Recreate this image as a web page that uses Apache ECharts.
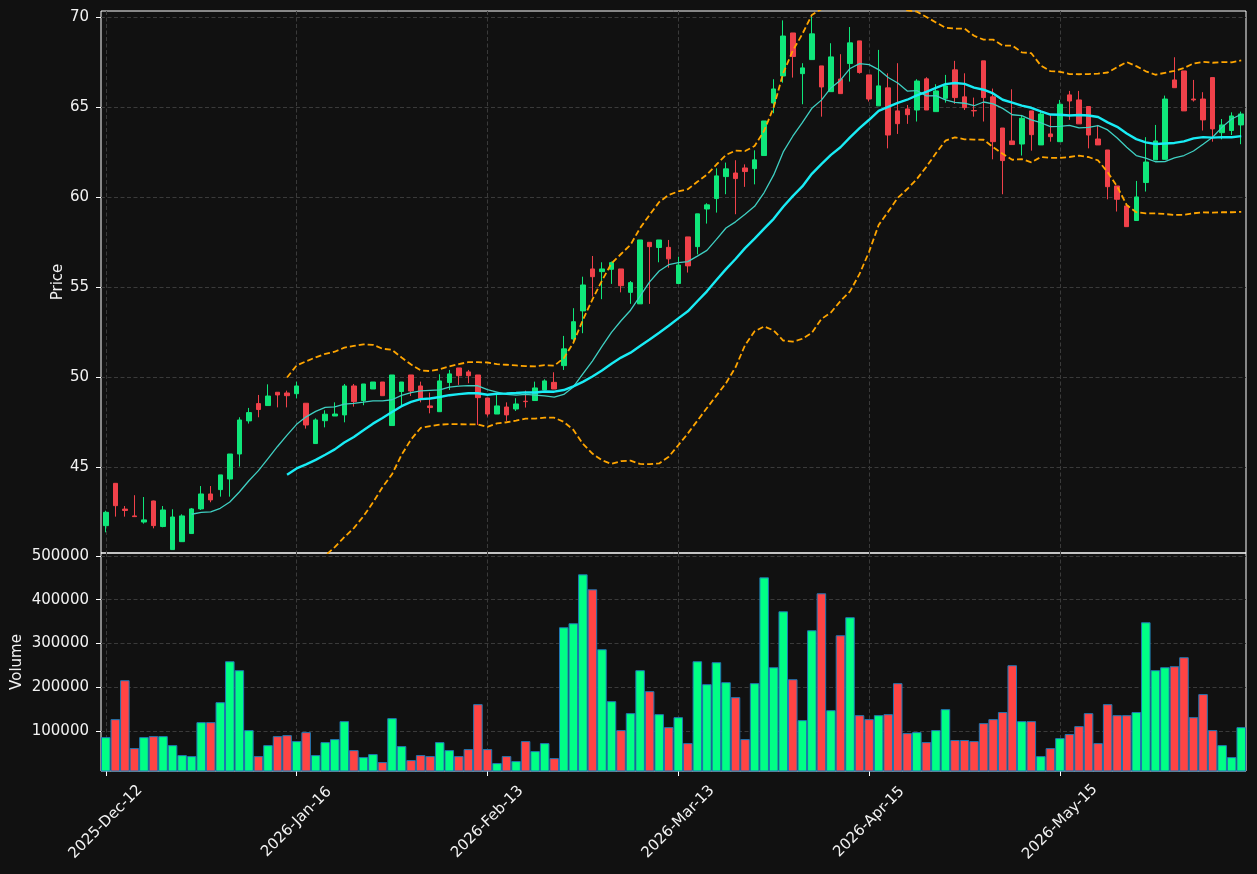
<!DOCTYPE html>
<html>
<head>
<meta charset="utf-8">
<title>Price / Volume</title>
<script src="https://cdn.jsdelivr.net/npm/echarts@6.0.0/dist/echarts.min.js"></script>
<style>
  html, body { margin: 0; padding: 0; background: #111111; }
  #chart { width: 1257px; height: 874px; }
</style>
</head>
<body>
<div id="chart"></div>
<script>
// trading days (one per candle)
const dates = [
	'2025-Dec-12', '2025-Dec-15', '2025-Dec-16', '2025-Dec-17', '2025-Dec-18', '2025-Dec-19', '2025-Dec-22', '2025-Dec-23', '2025-Dec-26', '2025-Dec-29',
	'2025-Dec-30', '2026-Jan-05', '2026-Jan-06', '2026-Jan-07', '2026-Jan-08', '2026-Jan-09', '2026-Jan-12', '2026-Jan-13', '2026-Jan-14', '2026-Jan-15',
	'2026-Jan-16', '2026-Jan-19', '2026-Jan-20', '2026-Jan-21', '2026-Jan-22', '2026-Jan-23', '2026-Jan-26', '2026-Jan-27', '2026-Jan-28', '2026-Jan-29',
	'2026-Jan-30', '2026-Feb-02', '2026-Feb-03', '2026-Feb-04', '2026-Feb-05', '2026-Feb-06', '2026-Feb-09', '2026-Feb-10', '2026-Feb-11', '2026-Feb-12',
	'2026-Feb-13', '2026-Feb-16', '2026-Feb-17', '2026-Feb-18', '2026-Feb-19', '2026-Feb-20', '2026-Feb-23', '2026-Feb-24', '2026-Feb-25', '2026-Feb-26',
	'2026-Feb-27', '2026-Mar-02', '2026-Mar-03', '2026-Mar-04', '2026-Mar-05', '2026-Mar-06', '2026-Mar-09', '2026-Mar-10', '2026-Mar-11', '2026-Mar-12',
	'2026-Mar-13', '2026-Mar-16', '2026-Mar-17', '2026-Mar-18', '2026-Mar-19', '2026-Mar-20', '2026-Mar-23', '2026-Mar-24', '2026-Mar-25', '2026-Mar-26',
	'2026-Mar-27', '2026-Mar-30', '2026-Mar-31', '2026-Apr-01', '2026-Apr-02', '2026-Apr-06', '2026-Apr-08', '2026-Apr-09', '2026-Apr-13', '2026-Apr-14',
	'2026-Apr-15', '2026-Apr-16', '2026-Apr-17', '2026-Apr-20', '2026-Apr-21', '2026-Apr-22', '2026-Apr-23', '2026-Apr-24', '2026-Apr-27', '2026-Apr-28',
	'2026-Apr-29', '2026-Apr-30', '2026-May-01', '2026-May-04', '2026-May-05', '2026-May-06', '2026-May-07', '2026-May-08', '2026-May-11', '2026-May-12',
	'2026-May-15', '2026-May-18', '2026-May-19', '2026-May-20', '2026-May-21', '2026-May-22', '2026-May-26', '2026-May-27', '2026-May-28', '2026-May-29',
	'2026-Jun-01', '2026-Jun-02', '2026-Jun-03', '2026-Jun-04', '2026-Jun-05', '2026-Jun-08', '2026-Jun-09', '2026-Jun-10', '2026-Jun-11', '2026-Jun-12'
]

const opens = [
	41.74, 44.09, 42.66, 42.28, 41.94, 43.11, 41.69, 40.41, 40.85, 41.30,
	42.67, 43.50, 43.74, 44.33, 45.72, 47.56, 48.52, 48.41, 49.15, 49.11,
	49.07, 48.54, 46.30, 47.57, 47.83, 47.89, 49.50, 48.69, 49.33, 49.72,
	47.30, 49.19, 50.11, 49.50, 48.39, 48.07, 49.69, 50.50, 50.28, 50.11,
	48.83, 47.94, 48.33, 48.22, 48.65, 48.69, 49.28, 49.70, 50.63, 52.11,
	53.67, 56.00, 55.85, 55.98, 56.00, 54.70, 54.06, 57.48, 57.19, 57.20,
	55.19, 57.78, 57.24, 59.33, 59.91, 61.13, 61.33, 61.61, 61.57, 62.30,
	65.22, 66.72, 69.11, 66.85, 67.63, 67.28, 65.85, 66.55, 67.41, 68.67,
	66.78, 65.06, 66.06, 64.78, 64.89, 64.83, 66.56, 64.74, 65.48, 67.06,
	65.56, 64.80, 67.56, 65.56, 63.83, 63.11, 62.94, 64.78, 62.89, 63.50,
	63.07, 65.67, 65.39, 65.02, 63.22, 62.61, 60.61, 59.50, 58.69, 60.80,
	62.06, 62.09, 66.50, 67.00, 65.44, 65.44, 66.63, 63.57, 63.69, 64.00
]

const closes = [
	42.48, 42.85, 42.58, 42.24, 42.06, 41.74, 42.61, 42.22, 42.28, 42.67,
	43.50, 43.17, 44.56, 45.72, 47.61, 48.02, 48.19, 48.94, 49.00, 48.96,
	49.50, 47.33, 47.61, 47.93, 47.94, 49.50, 48.63, 49.61, 49.72, 48.96,
	50.11, 49.72, 49.22, 48.81, 48.30, 49.78, 50.17, 50.07, 50.07, 48.85,
	47.94, 48.39, 47.89, 48.50, 48.63, 49.39, 49.78, 49.33, 51.56, 53.07,
	55.11, 55.57, 56.00, 56.35, 55.07, 55.24, 57.61, 57.24, 57.61, 56.56,
	56.22, 56.17, 59.06, 59.56, 61.17, 61.56, 61.02, 61.41, 62.06, 64.22,
	66.00, 68.94, 67.80, 67.17, 69.06, 66.11, 67.78, 65.74, 68.56, 66.91,
	65.44, 66.17, 63.44, 64.07, 64.57, 66.44, 64.83, 65.89, 66.17, 65.52,
	64.96, 64.78, 65.52, 63.07, 62.02, 62.91, 64.37, 63.46, 64.61, 63.35,
	65.15, 65.33, 64.06, 63.44, 62.89, 60.57, 59.87, 58.35, 60.00, 61.94,
	63.11, 65.44, 66.07, 64.78, 65.39, 64.28, 63.78, 64.00, 64.50, 64.61
]

const lows = [
	41.37, 42.24, 42.24, 42.22, 41.85, 41.59, 41.65, 40.41, 40.85, 41.30,
	42.61, 43.04, 43.35, 43.35, 45.02, 47.41, 47.76, 48.41, 48.31, 48.31,
	48.81, 47.13, 46.30, 47.20, 47.83, 47.48, 48.35, 48.43, 49.33, 48.96,
	47.30, 48.44, 48.94, 48.59, 47.98, 48.07, 49.28, 49.56, 49.65, 47.33,
	47.80, 47.94, 47.56, 48.11, 48.30, 48.69, 49.28, 49.33, 50.39, 51.87,
	52.43, 54.46, 54.32, 55.17, 54.70, 54.06, 54.06, 54.06, 56.37, 56.07,
	55.19, 55.80, 56.81, 58.52, 59.13, 60.15, 59.04, 60.56, 60.70, 62.30,
	64.65, 66.35, 66.63, 65.15, 67.63, 64.46, 65.85, 65.74, 66.41, 66.85,
	65.30, 65.06, 62.70, 63.50, 64.06, 64.19, 64.83, 64.74, 65.24, 65.17,
	64.83, 64.46, 64.19, 62.09, 60.15, 62.89, 62.30, 62.57, 62.89, 63.07,
	63.07, 64.28, 64.06, 62.70, 62.89, 59.87, 59.19, 58.35, 58.69, 60.30,
	62.06, 62.09, 66.07, 64.78, 65.30, 63.69, 63.07, 63.20, 63.44, 62.93
]

const highs = [
	42.57, 44.10, 42.83, 43.43, 43.33, 43.13, 42.83, 42.65, 42.37, 42.72,
	43.94, 43.94, 44.56, 45.72, 47.76, 48.28, 49.00, 49.59, 49.15, 49.24,
	49.74, 48.54, 47.70, 48.15, 48.59, 49.61, 49.61, 49.61, 49.72, 49.72,
	50.11, 49.72, 50.11, 49.74, 49.13, 50.15, 50.39, 50.50, 50.39, 50.11,
	48.83, 49.09, 48.59, 48.82, 49.24, 49.74, 49.87, 50.26, 52.28, 53.82,
	55.57, 56.72, 56.37, 56.41, 56.00, 55.33, 57.61, 57.48, 57.61, 57.61,
	56.68, 57.78, 59.06, 59.65, 61.59, 61.91, 62.04, 61.81, 62.59, 64.22,
	66.54, 69.81, 69.11, 67.43, 70.06, 67.28, 68.54, 67.93, 69.44, 68.67,
	66.78, 68.17, 66.87, 67.43, 65.11, 66.54, 66.65, 66.26, 66.78, 67.56,
	66.87, 65.52, 67.56, 66.02, 63.83, 65.98, 64.56, 64.78, 64.83, 64.56,
	65.39, 65.89, 65.89, 65.02, 64.00, 62.61, 60.61, 59.61, 60.89, 63.32,
	64.00, 65.63, 67.76, 67.00, 66.50, 65.82, 66.63, 64.33, 64.70, 64.74
]

const volumes = [
	85500, 126700, 215800, 60400, 85500, 87800, 87800, 67200, 44400, 42100,
	119800, 119800, 165500, 259200, 238700, 101600, 42100, 67200, 87800, 90100,
	76400, 97000, 44400, 74100, 81000, 122100, 55800, 39800, 46700, 28400,
	129000, 65000, 33000, 44400, 42100, 74100, 55800, 42100, 58100, 161000,
	58100, 26100, 42100, 30700, 76400, 53500, 71800, 37500, 337000, 346100,
	458100, 423800, 286700, 167800, 101600, 140400, 238700, 190700, 138100, 108400,
	131200, 71800, 259200, 206700, 257000, 211300, 177000, 81000, 209000, 451200,
	245500, 373500, 218100, 124400, 330100, 414700, 147200, 318700, 360000, 135800,
	126700, 135800, 138100, 209000, 94700, 97000, 74100, 101600, 149500, 78900,
	78900, 76400, 117500, 126700, 142900, 250100, 122100, 122100, 42100, 60400,
	83300, 92500, 110700, 140400, 71800, 161000, 135800, 135800, 142900, 348400,
	238700, 245500, 247800, 268400, 131200, 184000, 101600, 67200, 39800, 108400
]

const priceTicks = [45, 50, 55, 60, 65, 70]
const volumeTicks = [100000, 200000, 300000, 400000, 500000]

const upColor = '#0fe67a'
const downColor = '#f0414a'
const volUpColor = '#00ff85'
const volDownColor = '#ff4444'
const gridLine = { color: '#3a3a3a', width: 1, type: [4, 2.5] }
const textColor = '#f2f2f2'
const labelFont = 15

// rolling mean of the closes, '-' until the window is full
function rollingMean(values, n) {
	return values.map((v, i) => {
		if (i < n - 1) return '-'
		let s = 0
		for (let k = i - n + 1; k <= i; k++) s += values[k]
		return +(s / n).toFixed(4)
	})
}

// bollinger band, mean +/- mult * std of the window
function band(values, n, mult) {
	const mid = rollingMean(values, n)
	return values.map((v, i) => {
		if (i < n - 1) return '-'
		let ss = 0
		for (let k = i - n + 1; k <= i; k++) ss += Math.pow(values[k] - mid[i], 2)
		const sd = Math.sqrt(ss / n)
		return +(mid[i] + mult * sd).toFixed(4)
	})
}

const candles = dates.map((d, i) => [opens[i], closes[i], lows[i], highs[i]])
const volumeBars = volumes.map((v, i) => ({
	value: v,
	itemStyle: { color: closes[i] >= opens[i] ? volUpColor : volDownColor }
}))

const chart = echarts.init(document.getElementById('chart'), null, { renderer: 'canvas' })

chart.setOption({
	backgroundColor: '#111111',
	animation: false,
	textStyle: { fontFamily: 'DejaVu Sans' },
	grid: [
		{ left: 101, top: 11, width: 1145, height: 542, containLabel: false, outerBoundsMode: 'none', show: true, borderColor: '#ffffff', borderWidth: 1, backgroundColor: 'transparent' },
		{ left: 101, top: 553, width: 1145, height: 218, containLabel: false, outerBoundsMode: 'none', show: true, borderColor: '#ffffff', borderWidth: 1, backgroundColor: 'transparent' }
	],
	xAxis: [
		{
			type: 'category',
			gridIndex: 0,
			data: dates,
			axisLine: { show: false },
			axisTick: { show: false },
			axisLabel: { show: false },
			splitLine: { show: true, interval: 19, alignWithLabel: true, lineStyle: gridLine }
		},
		{
			type: 'category',
			gridIndex: 1,
			data: dates,
			axisLine: { show: false },
			axisTick: { show: true, interval: 19, alignWithLabel: true, length: 5, lineStyle: { color: '#ffffff' } },
			axisLabel: {
				interval: 19,
				rotate: 45,
				align: 'center',
				verticalAlign: 'middle',
				margin: 51,
				color: textColor,
				fontSize: labelFont,
				fontFamily: 'DejaVu Sans'
			},
			splitLine: { show: true, interval: 19, alignWithLabel: true, lineStyle: gridLine }
		}
	],
	yAxis: [
		{
			type: 'value',
			gridIndex: 0,
			min: 40.22,
			max: 70.33,
			name: 'Price',
			nameLocation: 'middle',
			nameGap: 35,
			nameMoveOverlap: false,
			nameTextStyle: { color: textColor, fontSize: labelFont, fontFamily: 'DejaVu Sans' },
			axisLine: { show: false },
			axisTick: { show: true, customValues: priceTicks, length: 5, lineStyle: { color: '#ffffff' } },
			axisLabel: { customValues: priceTicks, margin: 12, color: textColor, fontSize: labelFont, formatter: v => String(v) },
			splitLine: { show: true, lineStyle: gridLine }
		},
		{
			type: 'value',
			gridIndex: 1,
			min: 8000,
			max: 506900,
			name: 'Volume',
			nameLocation: 'middle',
			nameGap: 76,
			nameMoveOverlap: false,
			nameTextStyle: { color: textColor, fontSize: labelFont, fontFamily: 'DejaVu Sans' },
			axisLine: { show: false },
			axisTick: { show: true, customValues: volumeTicks, length: 5, lineStyle: { color: '#ffffff' } },
			axisLabel: { customValues: volumeTicks, margin: 12, color: textColor, fontSize: labelFont, formatter: v => String(v) },
			splitLine: { show: true, lineStyle: gridLine }
		}
	],
	series: [
		{
			name: 'candles',
			type: 'candlestick',
			xAxisIndex: 0,
			yAxisIndex: 0,
			barWidth: 5,
			data: candles,
			itemStyle: {
				color: upColor,
				color0: downColor,
				borderColor: upColor,
				borderColor0: downColor,
				borderWidth: 1
			},
			z: 3
		},
		{
			name: 'ma10',
			type: 'line',
			xAxisIndex: 0,
			yAxisIndex: 0,
			data: rollingMean(closes, 10),
			symbol: 'none',
			lineStyle: { color: '#3fcfc2', width: 1.3 },
			z: 4
		},
		{
			name: 'ma20',
			type: 'line',
			xAxisIndex: 0,
			yAxisIndex: 0,
			data: rollingMean(closes, 20),
			symbol: 'none',
			lineStyle: { color: '#19ecf5', width: 2.4 },
			z: 4
		},
		{
			name: 'upper',
			type: 'line',
			xAxisIndex: 0,
			yAxisIndex: 0,
			data: band(closes, 20, 2),
			symbol: 'none',
			lineStyle: { color: '#ffa500', width: 1.8, type: [6, 3] },
			z: 4
		},
		{
			name: 'lower',
			type: 'line',
			xAxisIndex: 0,
			yAxisIndex: 0,
			data: band(closes, 20, -2),
			symbol: 'none',
			lineStyle: { color: '#ffa500', width: 1.8, type: [6, 3] },
			z: 4
		},
		{
			name: 'volume',
			type: 'bar',
			xAxisIndex: 1,
			yAxisIndex: 1,
			data: volumeBars,
			barCategoryGap: '0%',
			itemStyle: { borderColor: '#1f77b4', borderWidth: 1 },
			z: 3
		}
	]
})
</script>
</body>
</html>
